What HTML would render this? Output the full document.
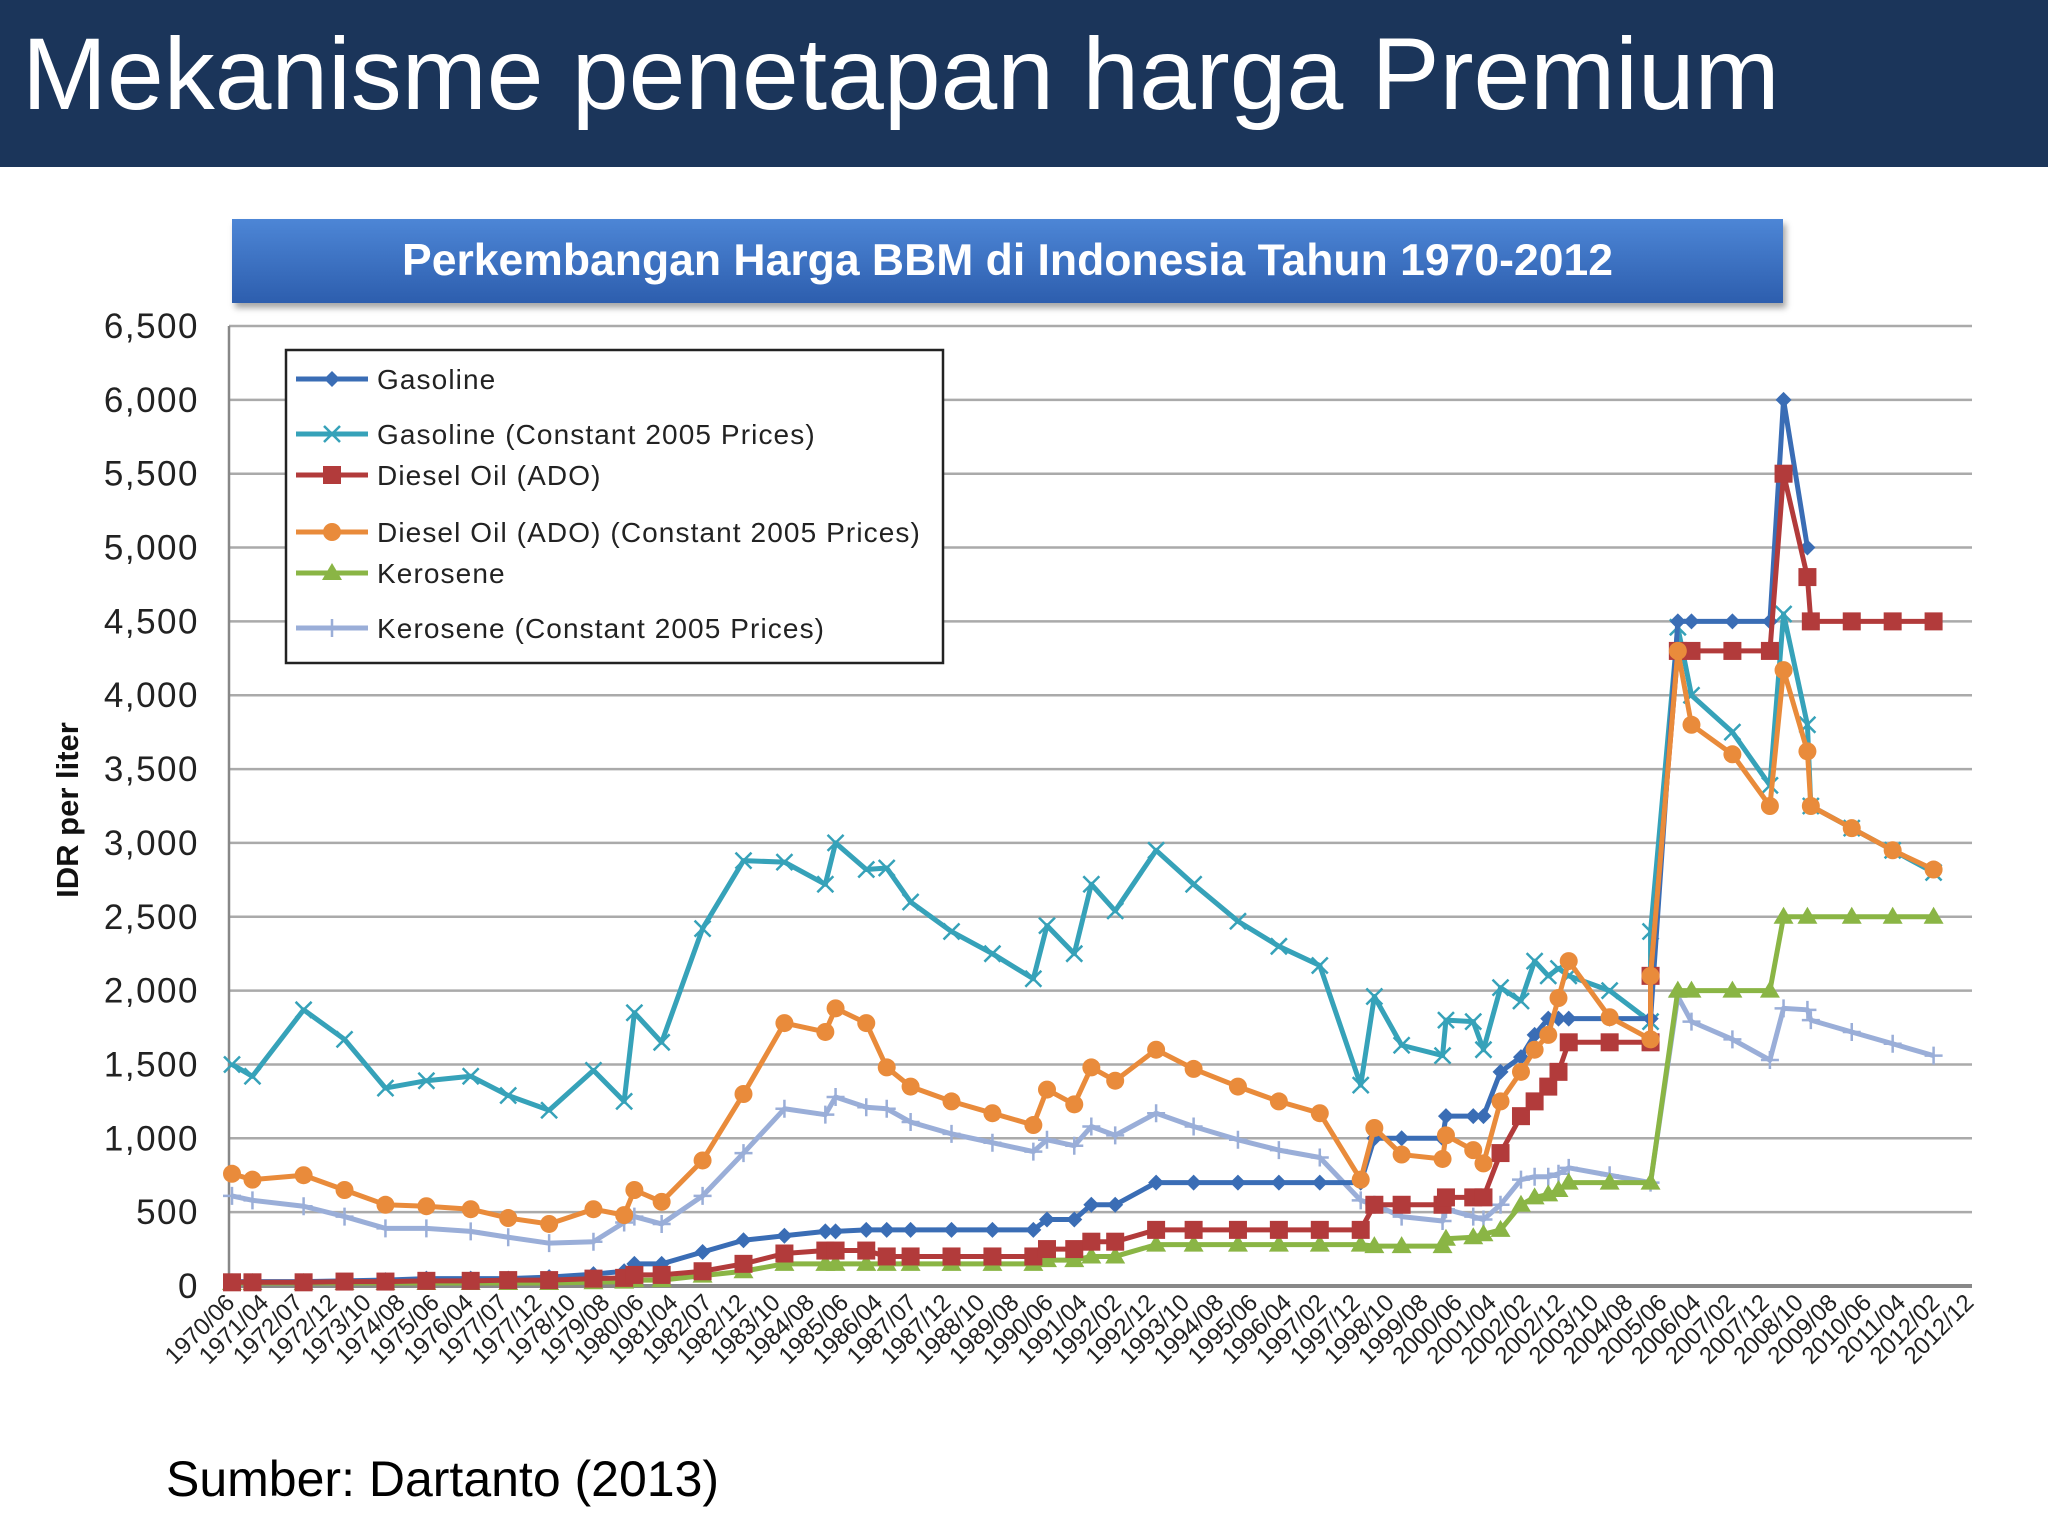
<!DOCTYPE html>
<html><head><meta charset="utf-8">
<style>
body{margin:0;width:2048px;height:1536px;background:#fff;overflow:hidden;font-family:"Liberation Sans",sans-serif;position:relative}
#hdr{position:absolute;left:0;top:0;width:2048px;height:167px;background:#1b355a}
#hdr h1{margin:0;position:absolute;left:22px;top:16px;font-weight:normal;font-size:102px;color:#fff;letter-spacing:0px}
#tbox{position:absolute;left:232px;top:219px;width:1551px;height:84px;background:linear-gradient(#4d86d6,#2d5eae);box-shadow:3px 5px 6px rgba(0,0,0,0.35);color:#fff;font-weight:bold;font-size:44.5px;text-align:center;line-height:84px}
#src{position:absolute;left:166px;top:1450px;font-size:50px;color:#000}
svg{position:absolute;left:0;top:0}
</style></head><body>
<div id="hdr"><h1>Mekanisme penetapan harga Premium</h1></div>
<div id="tbox">Perkembangan Harga BBM di Indonesia Tahun 1970-2012</div>
<svg id="chart" width="2048" height="1536"></svg>
<div id="src">Sumber: Dartanto (2013)</div>
<script>
const categories=["1970/06","1971/04","1972/07","1972/12","1973/10","1974/08","1975/06","1976/04","1977/07","1977/12","1978/10","1979/08","1980/06","1981/04","1982/07","1982/12","1983/10","1984/08","1985/06","1986/04","1987/07","1987/12","1988/10","1989/08","1990/06","1991/04","1992/02","1992/12","1993/10","1994/08","1995/06","1996/04","1997/02","1997/12","1998/10","1999/08","2000/06","2001/04","2002/02","2002/12","2003/10","2004/08","2005/06","2006/04","2007/02","2007/12","2008/10","2009/08","2010/06","2011/04","2012/02","2012/12"];
const yTicks=[0,500,1000,1500,2000,2500,3000,3500,4000,4500,5000,5500,6000,6500];
const obsPos=[0,0.6,2.1,3.3,4.5,5.7,7.0,8.1,9.3,10.6,11.5,11.8,12.6,13.8,15.0,16.2,17.4,17.7,18.6,19.2,19.9,21.1,22.3,23.5,23.9,24.7,25.2,25.9,27.1,28.2,29.5,30.7,31.9,33.1,33.5,34.3,35.5,35.6,36.4,36.7,37.2,37.8,38.2,38.6,38.9,39.2,40.4,41.6,41.6,42.4,42.8,44.0,45.1,45.5,46.2,46.3,47.5,48.7,49.9];
const gasoline=[30,30,30,35,40,50,50,50,60,80,100,150,150,230,310,340,370,370,380,380,380,380,380,380,450,450,550,550,700,700,700,700,700,700,1000,1000,1000,1150,1150,1150,1450,1550,1700,1810,1810,1810,1810,1810,1810,4500,4500,4500,4500,6000,5000,null,null,null,null];
const gasolineConst=[1500,1420,1870,1670,1340,1390,1420,1290,1190,1460,1250,1850,1650,2420,2880,2870,2720,3000,2820,2830,2600,2400,2250,2080,2440,2250,2720,2540,2950,2720,2470,2300,2170,1360,1960,1630,1560,1800,1790,1600,2020,1930,2200,2100,2150,2100,2000,1790,2400,4460,4000,3750,3390,4550,3800,3250,3100,2950,2800];
const diesel=[25,25,25,30,30,35,35,40,40,50,55,75,75,100,150,220,240,240,240,200,200,200,200,200,250,250,300,300,380,380,380,380,380,380,550,550,550,600,600,600,900,1150,1250,1350,1450,1650,1650,1650,2100,4300,4300,4300,4300,5500,4800,4500,4500,4500,4500];
const dieselConst=[760,720,750,650,550,540,520,460,420,520,480,650,570,850,1300,1780,1720,1880,1780,1480,1350,1250,1170,1090,1330,1230,1480,1390,1600,1470,1350,1250,1170,720,1070,890,860,1020,920,830,1250,1450,1600,1700,1950,2200,1820,1670,2100,4300,3800,3600,3250,4170,3620,3250,3100,2950,2820];
const kerosene=[20,20,20,20,20,20,20,20,20,25,30,40,40,70,100,150,150,150,150,150,150,150,150,150,175,175,200,200,280,280,280,280,280,280,270,270,270,320,330,350,380,550,600,620,650,700,700,700,null,2000,2000,2000,2000,2500,2500,null,2500,2500,2500];
const keroseneConst=[610,580,540,470,390,390,370,330,290,300,430,470,420,610,900,1200,1160,1280,1210,1200,1110,1030,970,910,990,950,1080,1020,1170,1080,990,920,870,580,550,470,440,520,470,450,550,720,740,740,760,800,750,700,null,1960,1790,1670,1530,1880,1870,1800,1720,1640,1560];
const seriesNames=["Gasoline","Gasoline (Constant 2005 Prices)","Diesel Oil (ADO)","Diesel Oil (ADO) (Constant 2005 Prices)","Kerosene","Kerosene (Constant 2005 Prices)"];

const NS="http://www.w3.org/2000/svg";
const svg=document.getElementById('chart');
const X0=232,DX=34.1,Y0=1286,YMAX=6500,PH=960,XL=229,XR=1972;
const xs=i=>X0+i*DX, ys=v=>Y0-v/YMAX*PH;
function mk(t,a,p){const e=document.createElementNS(NS,t);for(const k in a)e.setAttribute(k,a[k]);(p||svg).appendChild(e);return e;}

const grid=mk('g',{});


yTicks.forEach(v=>{
  const l=mk('line',{x1:XL,x2:XR,y1:ys(v),y2:ys(v),stroke:v===0?'#888':'#aaa','stroke-width':v===0?4:2.5},grid);
  
  
  const t=mk('text',{x:199,y:ys(v)+12,'text-anchor':'end','font-size':35,'letter-spacing':1.5,fill:'#222'});
  t.textContent=v.toLocaleString('en-US');
  
  
});
const ax=mk('line',{x1:XL,x2:XL,y1:ys(6500),y2:Y0,stroke:'#888','stroke-width':2.5});



categories.forEach((c,i)=>{
  const x=xs(i)+4,y=1304;
  const t=mk('text',{x:x,y:y,'text-anchor':'end','font-size':24,fill:'#222',transform:`rotate(-45 ${x} ${y})`});
  t.textContent=c;
  
  
});
const yt=mk('text',{x:78,y:810,'text-anchor':'middle','font-size':31,'font-weight':'bold',fill:'#111',transform:'rotate(-90 78 810)'});
yt.textContent='IDR per liter';



function marker(type,x,y,col,g){
  let e;
  if(type==='diamond')e=mk('polygon',{points:`${x},${y-8} ${x+8},${y} ${x},${y+8} ${x-8},${y}`,fill:col},g);
  else if(type==='square')e=mk('rect',{x:x-9,y:y-9,width:18,height:18,fill:col},g);
  else if(type==='circle')e=mk('circle',{cx:x,cy:y,r:9,fill:col},g);
  else if(type==='triangle')e=mk('polygon',{points:`${x},${y-10} ${x+10},${y+7} ${x-10},${y+7}`,fill:col},g);
  else if(type==='x')e=mk('path',{d:`M${x-8} ${y-8}L${x+8} ${y+8}M${x-8} ${y+8}L${x+8} ${y-8}`,stroke:col,'stroke-width':2.5},g);
  else e=mk('path',{d:`M${x-9} ${y}L${x+9} ${y}M${x} ${y-9}L${x} ${y+9}`,stroke:col,'stroke-width':2.5},g);
  return e;
}
const defs=[
 {d:keroseneConst,c:'#9aaed8',m:'plus',n:'kerosene-constant'},
 {d:kerosene,c:'#8ab545',m:'triangle',n:'kerosene'},
 {d:gasolineConst,c:'#36a2b9',m:'x',n:'gasoline-constant'},
 {d:gasoline,c:'#3a6db5',m:'diamond',n:'gasoline'},
 {d:diesel,c:'#b23b3b',m:'square',n:'diesel'},
 {d:dieselConst,c:'#e98b3b',m:'circle',n:'diesel-constant'}
];
defs.forEach(s=>{
  const g=mk('g',{});
  
  
  const pts=[];
  s.d.forEach((v,i)=>{if(v!==null)pts.push([xs(obsPos[i]),ys(v)]);});
  const pl=mk('polyline',{points:pts.map(p=>p.join(',')).join(' '),fill:'none',stroke:s.c,'stroke-width':5,'stroke-linejoin':'round'},g);
  
  
  pts.forEach(p=>{
    const e=marker(s.m,p[0],p[1],s.c,g);
    
    
  });
});

const lg=mk('g',{});


mk('rect',{x:286,y:350,width:657,height:313,fill:'#fff',stroke:'#222','stroke-width':2.5},lg);
const legY=[379,434,475,532,573,628];
const legOrder=[
 {c:'#3a6db5',m:'diamond'},{c:'#36a2b9',m:'x'},{c:'#b23b3b',m:'square'},
 {c:'#e98b3b',m:'circle'},{c:'#8ab545',m:'triangle'},{c:'#9aaed8',m:'plus'}];
seriesNames.forEach((n,i)=>{
  const y=legY[i];
  const e=mk('g',{},lg);
  
  
  mk('line',{x1:296,x2:368,y1:y,y2:y,stroke:legOrder[i].c,'stroke-width':5},e);
  marker(legOrder[i].m,332,y,legOrder[i].c,e);
  const t=mk('text',{x:377,y:y+10,'font-size':28,'letter-spacing':1.1,fill:'#222'},e);
  t.textContent=n;
});
</script>
</body></html>
